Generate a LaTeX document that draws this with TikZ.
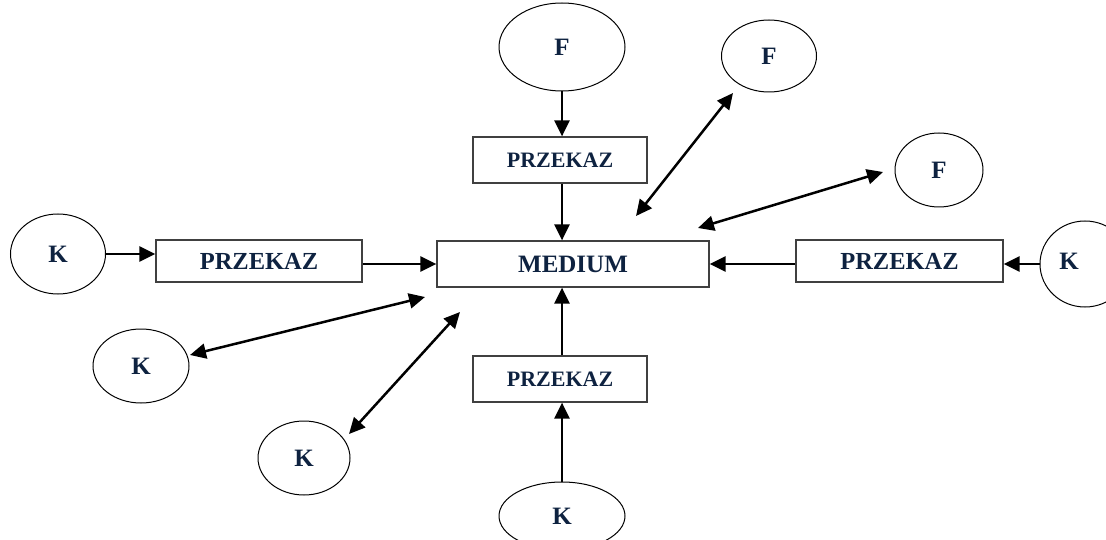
\documentclass[tikz,border=0pt]{standalone}
\usepackage{fontspec}
\setmainfont{Liberation Serif}
\usetikzlibrary{arrows.meta,shapes.geometric}
\definecolor{ink}{HTML}{0E2240}
\begin{document}
\begin{tikzpicture}[x=1pt,y=-1pt,
  oval/.style={draw=black, line width=1.0pt, ellipse, inner sep=0pt,
    text=ink, font=\fontsize{25}{25}\selectfont\bfseries},
  boxnode/.style={draw=black!75, line width=1.2pt, rectangle, inner sep=0pt,
    text=ink, font=\fontsize{24.5}{24.5}\selectfont\bfseries},
  small/.style={font=\fontsize{22}{22}\selectfont\bfseries},
  arr/.style={line width=2.7pt, -{Triangle[length=16pt,width=15pt]}},
  both/.style={line width=2.5pt, {Triangle[length=16pt,width=15pt]}-{Triangle[length=16pt,width=15pt]}}
]
\useasboundingbox (0,0) rectangle (1106,540);
\clip (0,0) rectangle (1106,540);

% central medium and the four transfer boxes
\node[boxnode, minimum width=272pt, minimum height=46pt, font=\fontsize{25}{25}\selectfont\bfseries] (med) at (573,264) {MEDIUM};
\node[boxnode, small, minimum width=174pt, minimum height=46pt] (pT) at (560,160) {PRZEKAZ};
\node[boxnode, small, minimum width=174pt, minimum height=46pt] (pB) at (560,379) {PRZEKAZ};
\node[boxnode, minimum width=206pt, minimum height=42pt] (pL) at (259,261) {PRZEKAZ};
\node[boxnode, minimum width=207pt, minimum height=42pt] (pR) at (899.5,261) {PRZEKAZ};

% senders and receivers
\node[oval, minimum width=126pt, minimum height=88pt] (fT) at (562,47) {F};
\node[oval, minimum width=95pt, minimum height=72pt] (fUR) at (769,56) {F};
\node[oval, minimum width=88pt, minimum height=74pt] (fR) at (939,170) {F};
\node[oval, minimum width=95pt, minimum height=80pt] (kL) at (58,254) {K};
\node[oval, minimum width=90pt, minimum height=86pt] (kR) at (1085,264) {\kern-16pt\raisebox{6pt}{K}\kern16pt};
\node[oval, minimum width=96pt, minimum height=74pt] (kLL) at (141,366) {K};
\node[oval, minimum width=92pt, minimum height=74pt] (kLow) at (304,458) {K};
\node[oval, minimum width=126pt, minimum height=68pt] (kB) at (562,516) {K};

% ends of the two-way links
\coordinate (d1a) at (636,216);
\coordinate (d1b) at (733,93);
\coordinate (d2a) at (698,228);
\coordinate (d2b) at (883,172);
\coordinate (d3a) at (425,297);
\coordinate (d3b) at (190,355);
\coordinate (d4a) at (460,312);
\coordinate (d4b) at (349,434);

% one-way chains into the medium
\draw[arr] (fT.south) -- (fT.south |- pT.north);
\draw[arr] (fT.south |- pT.south) -- (fT.south |- med.north);
\draw[arr] (kB.north) -- (kB.north |- pB.south);
\draw[arr] (kB.north |- pB.north) -- (kB.north |- med.south);
\draw[arr] (kL.east) -- (kL.east -| pL.west);
\draw[arr] ([yshift=-3pt]pL.east) -- ([yshift=-3pt]pL.east -| med.west);
\draw[arr] (kR.west) -- (kR.west -| pR.east);
\draw[arr] ([yshift=-3pt]pR.west) -- ([yshift=-3pt]pR.west -| med.east);

% two-way links
\draw[both] (d1a) -- (d1b);
\draw[both] (d2a) -- (d2b);
\draw[both] (d3a) -- (d3b);
\draw[both] (d4a) -- (d4b);
\end{tikzpicture}
\end{document}
